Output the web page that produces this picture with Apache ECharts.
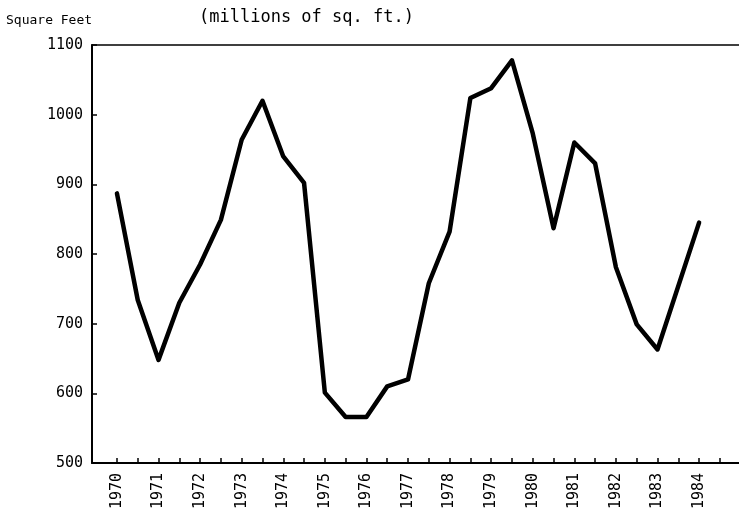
<!DOCTYPE html>
<html>
<head>
<meta charset="utf-8">
<script src="https://cdn.jsdelivr.net/npm/echarts@6/dist/echarts.min.js"></script>
<style>
html,body{margin:0;padding:0;background:#fff;}
#chart{width:739px;height:514px;}
</style>
</head>
<body>
<div id="chart"></div>
<script>
// Data (half-year points)
var periods = [1970, 1970.5, 1971, 1971.5, 1972, 1972.5, 1973, 1973.5, 1974, 1974.5,
               1975, 1975.5, 1976, 1976.5, 1977, 1977.5, 1978, 1978.5, 1979, 1979.5,
               1980, 1980.5, 1981, 1981.5, 1982, 1982.5, 1983, 1984];
var values = [887, 734, 648, 730, 785, 849, 964, 1020, 940, 902,
              601, 566, 566, 610, 620, 758, 832, 1024, 1038, 1078,
              973, 837, 960, 930, 781, 699, 663, 845];
var yearLabels = [1970, 1971, 1972, 1973, 1974, 1975, 1976, 1977, 1978, 1979,
                  1980, 1981, 1982, 1983, 1984];
var tickPositions = [1970, 1970.5, 1971, 1971.5, 1972, 1972.5, 1973, 1973.5, 1974, 1974.5,
                     1975, 1975.5, 1976, 1976.5, 1977, 1977.5, 1978, 1978.5, 1979, 1979.5,
                     1980, 1980.5, 1981, 1981.5, 1982, 1982.5, 1983, 1983.5, 1984, 1984.5];
var yTicks = [500, 600, 700, 800, 900, 1000, 1100];

var chart = echarts.init(document.getElementById('chart'), null, {renderer: 'canvas'});
var mono = '"DejaVu Sans Mono", "Liberation Mono", monospace';
var pts = periods.map(function (p, i) { return [p, values[i]]; });

chart.setOption({
  animation: false,
  backgroundColor: '#ffffff',
  graphic: [
    {type: 'text', left: 6, top: 14, style: {text: 'Square Feet', font: '13px ' + mono, fill: '#000'}},
    {type: 'text', left: 199, top: 9, style: {text: '(millions of sq. ft.)', font: '17px ' + mono, fill: '#000'}}
  ],
  grid: {left: 92, right: 0, top: 45, bottom: 51, containLabel: false},
  xAxis: [{
    type: 'value',
    min: 1969.4,
    max: 1984.96,
    axisLine: {show: true, lineStyle: {color: '#000', width: 2}},
    axisTick: {show: true, inside: true, length: 5, customValues: tickPositions, lineStyle: {color: '#000', width: 1.5}},
    axisLabel: {
      show: true, customValues: yearLabels, rotate: 90, margin: 10,
      fontFamily: mono, fontSize: 15, color: '#000',
      formatter: function (v) { return String(Math.round(v)); }
    },
    splitLine: {show: false}
  }, {
    type: 'value',
    position: 'top',
    min: 1969.4,
    max: 1984.96,
    axisLine: {show: true, onZero: false, lineStyle: {color: '#000', width: 1.5}},
    axisTick: {show: false},
    axisLabel: {show: false},
    splitLine: {show: false}
  }],
  yAxis: {
    type: 'value',
    min: 500,
    max: 1100,
    interval: 100,
    axisLine: {show: true, lineStyle: {color: '#000', width: 2}},
    axisTick: {show: true, inside: true, length: 5, lineStyle: {color: '#000', width: 1.5}},
    axisLabel: {
      show: true, customValues: yTicks, margin: 9, fontFamily: mono, fontSize: 15, color: '#000',
      formatter: function (v) { return String(Math.round(v)); }
    },
    splitLine: {show: false}
  },
  series: [{
    type: 'line',
    data: pts,
    showSymbol: false,
    symbol: 'none',
    lineStyle: {color: '#000', width: 4.5, join: 'round', cap: 'round'}
  }]
});
</script>
</body>
</html>
